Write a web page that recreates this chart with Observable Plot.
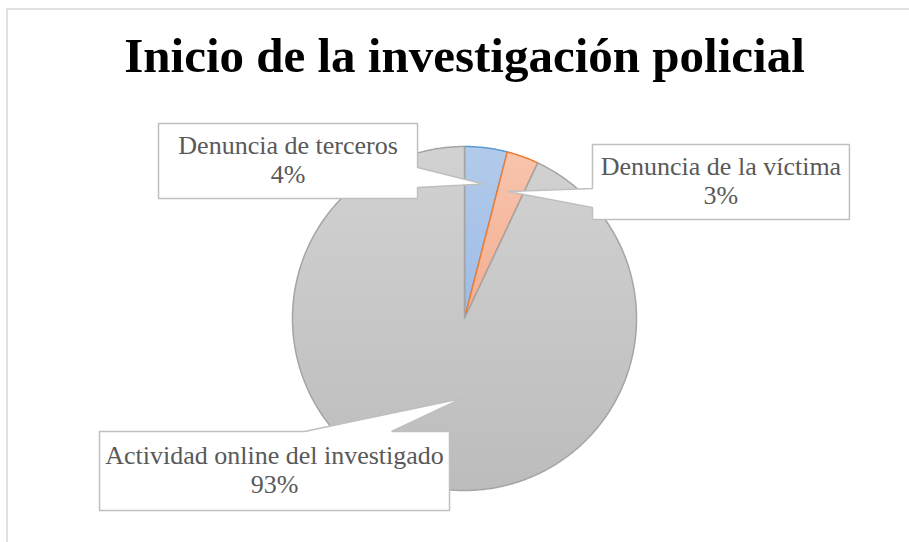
<!DOCTYPE html>
<html>
<head>
<meta charset="utf-8">
<script src="https://cdn.jsdelivr.net/npm/d3@7"></script>
<script src="https://cdn.jsdelivr.net/npm/@observablehq/plot@0.6"></script>
<style>
  html, body { margin: 0; padding: 0; background: #fff; overflow: hidden; }
  #wrap { position: relative; width: 909px; height: 542px; overflow: hidden; }
  #wrap svg { position: absolute; left: 0; top: 0; }
  #border { position: absolute; left: 6px; top: 8px; width: 1000px; height: 1000px;
            border: 2px solid #e0e0e0; pointer-events: none; }
</style>
</head>
<body>
<div id="wrap"><div id="border"></div></div>
<script>
// ---- data ----
const title = "Inicio de la investigación policial";
const categories = ["Denuncia de terceros", "Denuncia de la víctima", "Actividad online del investigado"];
const values = [4, 3, 93];

// ---- styles ----
const sliceFills = ["url(#gBlue)", "url(#gOrange)", "url(#gGray)"];
const sliceStrokes = ["#5b9bd5", "#ed7d31", "#a5a5a5"];

// ---- layout (pie-radius units, pie centre = 0,0, y up) ----
const W = 909, H = 542, CX = 464, CY = 318, R = 172;
const labelLayout = [
  {box: [-1.779, -0.273, 0.698, 1.134], side: "right", base: [0.878, 0.762], tip: {angle: 8.0, r: 0.79}},
  {box: [0.744, 2.238, 0.576, 1.012], side: "left", base: [0.756, 0.645], tip: {angle: 18.7, r: 0.78}},
  {box: [-2.122, -0.087, -1.116, -0.657], side: "top", base: [-0.930, -0.424], tip: {angle: 182, r: 0.465}}
];

// ---- pie geometry ----
const data = categories.map((c, i) => ({category: c, value: values[i], i}));
const arcs = d3.pie().sort(null).value(d => d.value).startAngle(0).endAngle(2 * Math.PI)(data);

const slicePts = arcs.map((a, i) => {
  const n = Math.max(8, Math.ceil((a.endAngle - a.startAngle) * 180 / Math.PI * 2));
  const pts = [{x: 0, y: 0}];
  for (let k = 0; k <= n; k++) {
    const t = a.startAngle + (a.endAngle - a.startAngle) * k / n;
    pts.push({x: Math.sin(t), y: Math.cos(t)});
  }
  pts.push({x: 0, y: 0});
  return pts;
});

// ---- callout polygons ----
function callout(L, id) {
  const [x0, x1, y0, y1] = L.box;
  const ta = L.tip.angle * Math.PI / 180;
  const tip = {x: L.tip.r * Math.sin(ta), y: L.tip.r * Math.cos(ta)};
  let p;
  if (L.side === "right") {
    p = [[x0, y1], [x1, y1], [x1, L.base[0]], [tip.x, tip.y], [x1, L.base[1]], [x1, y0], [x0, y0], [x0, y1]];
  } else if (L.side === "left") {
    p = [[x0, y1], [x1, y1], [x1, y0], [x0, y0], [x0, L.base[1]], [tip.x, tip.y], [x0, L.base[0]], [x0, y1]];
  } else {
    p = [[x0, y1], [L.base[0], y1], [tip.x, tip.y], [L.base[1], y1], [x1, y1], [x1, y0], [x0, y0], [x0, y1]];
  }
  return p.map(([x, y]) => ({id, x, y}));
}
const calloutPts = labelLayout.flatMap((L, i) => callout(L, i));
const labelText = data.map((d, i) => ({
  text: `${d.category}\n${d.value}%`,
  x: (labelLayout[i].box[0] + labelLayout[i].box[1]) / 2,
  y: (labelLayout[i].box[2] + labelLayout[i].box[3]) / 2
}));

const chart = Plot.plot({
  width: W,
  height: H,
  margin: 0,
  x: {domain: [-CX / R, (W - CX) / R], range: [0, W], axis: null},
  y: {domain: [(CY - H) / R, CY / R], range: [H, 0], axis: null},
  style: {background: "transparent"},
  marks: [
    ...slicePts.map((pts, i) => Plot.line(pts, {
      x: "x", y: "y", fill: sliceFills[i], stroke: sliceStrokes[i],
      strokeWidth: 1.5, strokeLinejoin: "round", curve: "linear"
    })),
    Plot.line(calloutPts, {
      x: "x", y: "y", z: "id", fill: "white", stroke: "#bfbfbf",
      strokeWidth: 1.5, strokeLinejoin: "miter", curve: "linear"
    }),
    Plot.text(labelText, {
      x: "x", y: "y", text: "text", textAnchor: "middle", lineAnchor: "middle",
      dy: -2, lineHeight: 1.15, fontSize: 26, fontFamily: "'Liberation Serif', serif", fill: "#595959"
    }),
    Plot.text([{t: title, x: 0}], {
      x: "x", text: "t", frameAnchor: "top", dy: 71, lineAnchor: "bottom",
      textAnchor: "middle", fontSize: 49, fontWeight: "bold",
      fontFamily: "'Liberation Serif', serif", fill: "#000"
    })
  ]
});

const ns = "http://www.w3.org/2000/svg";
const defs = document.createElementNS(ns, "defs");
defs.innerHTML = `
  <linearGradient id="gBlue" x1="0" y1="0" x2="0" y2="1">
    <stop offset="0" stop-color="#b2cbeb"/><stop offset="1" stop-color="#9fbce5"/>
  </linearGradient>
  <linearGradient id="gOrange" x1="0" y1="0" x2="0" y2="1">
    <stop offset="0" stop-color="#f8c4ad"/><stop offset="1" stop-color="#f3ae91"/>
  </linearGradient>
  <linearGradient id="gGray" x1="0" y1="0" x2="0" y2="1">
    <stop offset="0" stop-color="#d2d2d2"/><stop offset="1" stop-color="#bcbcbc"/>
  </linearGradient>`;
chart.insertBefore(defs, chart.firstChild);
document.getElementById("wrap").insertBefore(chart, document.getElementById("border"));
</script>
</body>
</html>
